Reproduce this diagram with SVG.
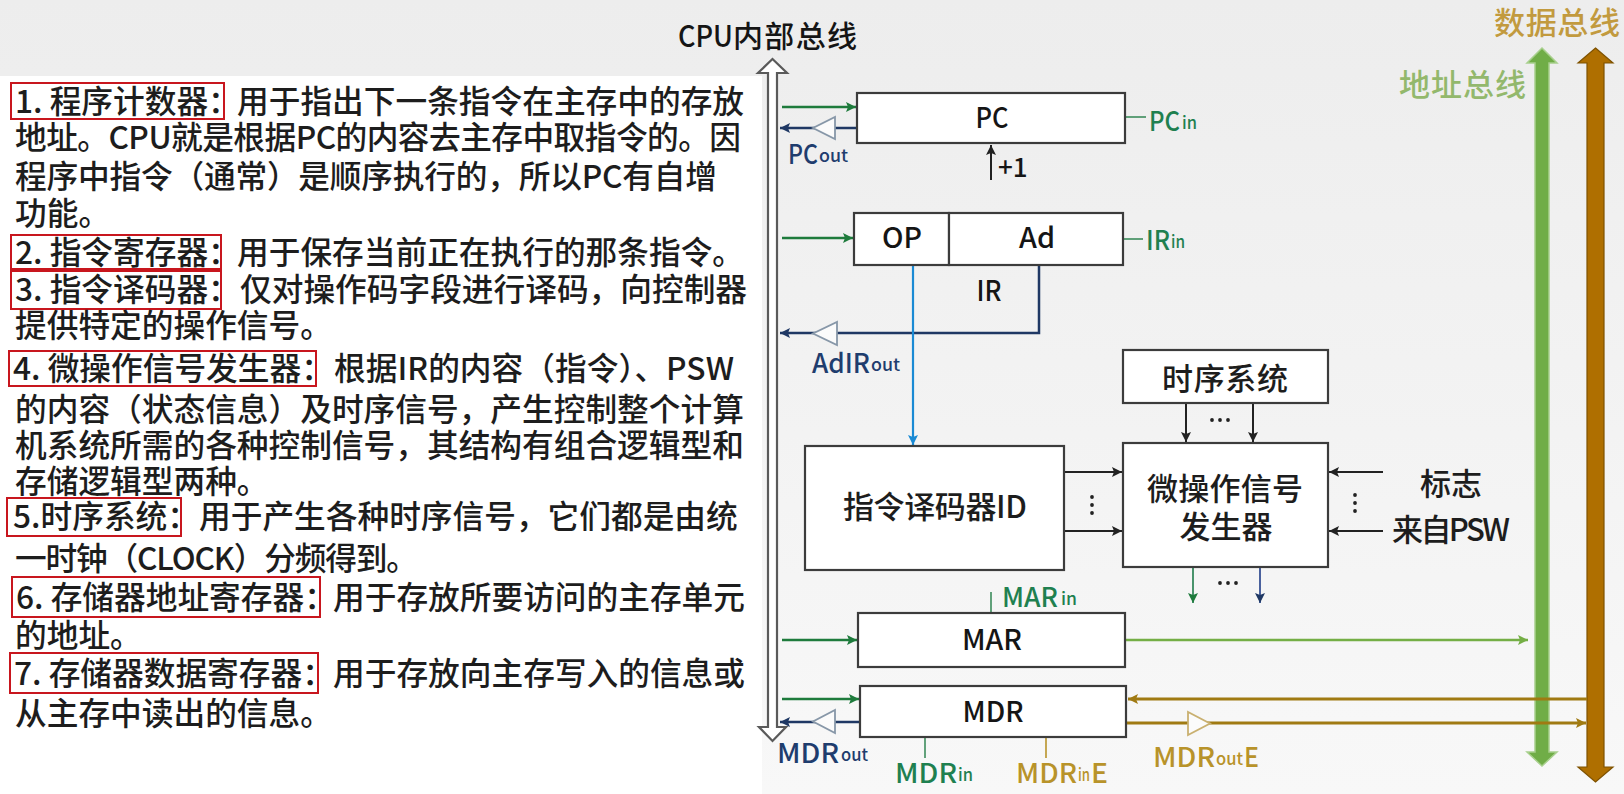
<svg xmlns="http://www.w3.org/2000/svg" width="1624" height="794" viewBox="0 0 1624 794">
<defs>
<style>
text { font-family: "Noto Sans CJK SC", "Noto Sans", sans-serif; font-weight:500; }
.n { font-size:31.7px; fill:#1d1d1d; }
.rb { fill:none; stroke:#C8161E; stroke-width:2; }
.box { fill:#ffffff; stroke:#3c3c3c; stroke-width:2.2; }
.bl { font-size:28px; fill:#151515; text-anchor:middle; }
.cj { font-size:31px; fill:#1d1d1d; text-anchor:middle; }
.g { fill:#1F8050; } .b { fill:#1F3D6E; } .y { fill:#B8932A; }
.big { font-size:27px; } .sub { font-size:17px; }
.lg { stroke:#1E7B3C; stroke-width:2.5; fill:none; }
.lb { stroke:#1F3864; stroke-width:2.5; fill:none; }
.llb { stroke:#1A8AD4; stroke-width:2.2; fill:none; }
.lk { stroke:#222222; stroke-width:2; fill:none; }
.lgg { stroke:#74AE45; stroke-width:2.6; fill:none; }
.lgo { stroke:#A07A12; stroke-width:3; fill:none; }
.ctl { stroke:#3C8C5C; stroke-width:1.6; fill:none; }
.ctly { stroke:#B8932A; stroke-width:1.6; fill:none; }
.tri { fill:#fbfbfb; stroke:#8797A8; stroke-width:1.8; }
.triy { fill:#fbfbfb; stroke:#C9B070; stroke-width:1.8; }
.dot { fill:#222; }
</style>
<linearGradient id="bg" x1="0" y1="0" x2="0" y2="1">
<stop offset="0" stop-color="#ededed"/>
<stop offset="1" stop-color="#f8f8f8"/>
</linearGradient>
<marker id="mg" viewBox="0 0 10 10" refX="10" refY="5" markerWidth="11" markerHeight="10" markerUnits="userSpaceOnUse" orient="auto"><path d="M0,0 L10,5 L0,10 L2,5 z" fill="#1E7B3C"/></marker>
<marker id="mb" viewBox="0 0 10 10" refX="10" refY="5" markerWidth="11" markerHeight="10" markerUnits="userSpaceOnUse" orient="auto"><path d="M0,0 L10,5 L0,10 L2,5 z" fill="#1F3864"/></marker>
<marker id="mlb" viewBox="0 0 10 10" refX="10" refY="5" markerWidth="11" markerHeight="10" markerUnits="userSpaceOnUse" orient="auto"><path d="M0,0 L10,5 L0,10 L2,5 z" fill="#1A8AD4"/></marker>
<marker id="mk" viewBox="0 0 10 10" refX="10" refY="5" markerWidth="11" markerHeight="10" markerUnits="userSpaceOnUse" orient="auto"><path d="M0,0 L10,5 L0,10 L2,5 z" fill="#222222"/></marker>
<marker id="mgg" viewBox="0 0 10 10" refX="10" refY="5" markerWidth="12" markerHeight="10" markerUnits="userSpaceOnUse" orient="auto"><path d="M0,0 L10,5 L0,10 L2,5 z" fill="#74AE45"/></marker>
<marker id="mgo" viewBox="0 0 10 10" refX="10" refY="5" markerWidth="12" markerHeight="10" markerUnits="userSpaceOnUse" orient="auto"><path d="M0,0 L10,5 L0,10 L2,5 z" fill="#A07A12"/></marker>
</defs>

<rect width="1624" height="794" fill="url(#bg)"/>
<rect x="0" y="76" width="762" height="718" fill="#ffffff"/>

<g id="notes">
  <g id="note1">
    <rect class="rb" x="11" y="83" width="213" height="36"/>
    <text class="n" x="15" y="113">1. 程序计数器：</text>
    <text class="n" x="237" y="113">用于指出下一条指令在主存中的存放</text>
    <text class="n" x="15" y="149" textLength="726">地址。CPU就是根据PC的内容去主存中取指令的。因</text>
    <text class="n" x="15" y="188" textLength="702">程序中指令（通常）是顺序执行的，所以PC有自增</text>
    <text class="n" x="15" y="225">功能。</text>
  </g>
  <g id="note2">
    <rect class="rb" x="11" y="235" width="210" height="34"/>
    <text class="n" x="15" y="264">2. 指令寄存器：</text>
    <text class="n" x="237" y="264">用于保存当前正在执行的那条指令。</text>
  </g>
  <g id="note3">
    <rect class="rb" x="11" y="271" width="210" height="38"/>
    <text class="n" x="15" y="301">3. 指令译码器：</text>
    <text class="n" x="240" y="301">仅对操作码字段进行译码，向控制器</text>
    <text class="n" x="15" y="337">提供特定的操作信号。</text>
  </g>
  <g id="note4">
    <rect class="rb" x="9" y="351" width="307" height="35"/>
    <text class="n" x="13" y="380">4. 微操作信号发生器：</text>
    <text class="n" x="334" y="380" textLength="400">根据IR的内容（指令）、PSW</text>
    <text class="n" x="15" y="421">的内容（状态信息）及时序信号，产生控制整个计算</text>
    <text class="n" x="15" y="457">机系统所需的各种控制信号，其结构有组合逻辑型和</text>
    <text class="n" x="15" y="493">存储逻辑型两种。</text>
  </g>
  <g id="note5">
    <rect class="rb" x="7" y="498" width="174" height="38"/>
    <text class="n" x="13" y="528">5.时序系统：</text>
    <text class="n" x="199" y="528">用于产生各种时序信号，它们都是由统</text>
    <text class="n" x="15" y="570" textLength="403">一时钟（CLOCK）分频得到。</text>
  </g>
  <g id="note6">
    <rect class="rb" x="12" y="577" width="308" height="40"/>
    <text class="n" x="16" y="609">6. 存储器地址寄存器：</text>
    <text class="n" x="333" y="609">用于存放所要访问的主存单元</text>
    <text class="n" x="15" y="647">的地址。</text>
  </g>
  <g id="note7">
    <rect class="rb" x="10" y="653" width="308" height="40"/>
    <text class="n" x="14" y="685">7. 存储器数据寄存器：</text>
    <text class="n" x="333" y="685">用于存放向主存写入的信息或</text>
    <text class="n" x="15" y="725">从主存中读出的信息。</text>
  </g>
</g>

<g id="cpu-bus">
  <polygon points="772.5,59 787,73 777,73 777,727 786,727 772.5,741 759,727 768,727 768,73 758,73" fill="#ffffff" stroke="#5a5a5a" stroke-width="2.2"/>
  <text x="678" y="47" font-size="29" fill="#151515" textLength="55" lengthAdjust="spacingAndGlyphs">CPU</text>
  <text x="733" y="47" font-size="30" fill="#151515" textLength="124">内部总线</text>
</g>

<g id="address-bus">
  <polygon points="1542,48 1557,63 1549,63 1549,752 1557,752 1542,766 1527,752 1535,752 1535,63 1527,63" fill="#70AD47" stroke="#A8D08D" stroke-width="1.5"/>
  <text x="1399" y="96" font-size="31" fill="#93B86C" textLength="127">地址总线</text>
</g>

<g id="data-bus">
  <polygon points="1595.5,48 1613,63 1604,63 1604,767 1613,767 1595.5,782 1578,767 1587,767 1587,63 1578,63" fill="#AF6F00" stroke="#7F5200" stroke-width="1.2"/>
  <text x="1494" y="34" font-size="31" fill="#C29A3E" textLength="126">数据总线</text>
</g>

<g id="connectors">
  <!-- PC -->
  <line class="lg" x1="782" y1="107" x2="856" y2="107" marker-end="url(#mg)"/>
  <line class="lb" x1="857" y1="128" x2="780" y2="128" marker-end="url(#mb)"/>
  <polygon class="tri" points="835,117 835,139 813,128"/>
  <line class="lk" x1="991" y1="180" x2="991" y2="145" marker-end="url(#mk)"/>
  <line class="ctl" x1="1125" y1="117" x2="1146" y2="117"/>
  <!-- IR -->
  <line class="lg" x1="782" y1="238" x2="853" y2="238" marker-end="url(#mg)"/>
  <line class="ctl" x1="1123" y1="239" x2="1143" y2="239"/>
  <polyline class="lb" points="1039,265 1039,333 780,333" marker-end="url(#mb)"/>
  <polygon class="tri" points="837,322 837,345 813,333.5"/>
  <line class="llb" x1="913" y1="265" x2="913" y2="445" marker-end="url(#mlb)"/>
  <!-- timing to micro-op -->
  <line class="lk" x1="1186" y1="403" x2="1186" y2="442" marker-end="url(#mk)"/>
  <line class="lk" x1="1253" y1="403" x2="1253" y2="442" marker-end="url(#mk)"/>
  <circle class="dot" cx="1212" cy="420" r="1.9"/><circle class="dot" cx="1220" cy="420" r="1.9"/><circle class="dot" cx="1228" cy="420" r="1.9"/>
  <!-- ID to micro-op -->
  <line class="lk" x1="1064" y1="472" x2="1122" y2="472" marker-end="url(#mk)"/>
  <line class="lk" x1="1064" y1="531" x2="1122" y2="531" marker-end="url(#mk)"/>
  <circle class="dot" cx="1092" cy="497" r="1.9"/><circle class="dot" cx="1092" cy="505" r="1.9"/><circle class="dot" cx="1092" cy="513" r="1.9"/>
  <!-- flags into micro-op -->
  <line class="lk" x1="1383" y1="472" x2="1329" y2="472" marker-end="url(#mk)"/>
  <line class="lk" x1="1383" y1="531" x2="1329" y2="531" marker-end="url(#mk)"/>
  <circle class="dot" cx="1355" cy="495" r="1.9"/><circle class="dot" cx="1355" cy="503" r="1.9"/><circle class="dot" cx="1355" cy="511" r="1.9"/>
  <!-- micro-op outputs -->
  <line stroke="#1E7B4A" stroke-width="1.6" x1="1193" y1="567" x2="1193" y2="603" marker-end="url(#mg)"/>
  <line stroke="#1F3C88" stroke-width="1.6" x1="1260" y1="567" x2="1260" y2="603" marker-end="url(#mb)"/>
  <circle class="dot" cx="1220" cy="583" r="1.9"/><circle class="dot" cx="1228" cy="583" r="1.9"/><circle class="dot" cx="1236" cy="583" r="1.9"/>
  <!-- MAR -->
  <line class="ctl" x1="991" y1="592" x2="991" y2="613"/>
  <line class="lg" x1="782" y1="640" x2="857" y2="640" marker-end="url(#mg)"/>
  <line class="lgg" x1="1125" y1="640" x2="1528" y2="640" marker-end="url(#mgg)"/>
  <!-- MDR -->
  <line class="lg" x1="782" y1="699" x2="859" y2="699" marker-end="url(#mg)"/>
  <line class="lb" x1="860" y1="722" x2="780" y2="722" marker-end="url(#mb)"/>
  <polygon class="tri" points="835,710 835,733 813,721.5"/>
  <line class="ctl" x1="925" y1="737" x2="925" y2="758"/>
  <line class="ctly" x1="1046" y1="737" x2="1046" y2="758"/>
  <line class="lgo" x1="1587" y1="699" x2="1128" y2="699" marker-end="url(#mgo)"/>
  <line class="lgo" x1="1126" y1="723" x2="1586" y2="723" marker-end="url(#mgo)"/>
  <polygon class="triy" points="1188,712 1188,735 1210,723.5"/>
</g>

<g id="pc">
  <rect class="box" x="857" y="93" width="268" height="50"/>
  <text class="bl" x="992" y="128" textLength="33" lengthAdjust="spacingAndGlyphs">PC</text>
  <text x="998" y="177" font-size="26" fill="#151515">+1</text>
</g>
<g id="ir">
  <rect class="box" x="854" y="213" width="95" height="52"/>
  <rect class="box" x="949" y="213" width="174" height="52"/>
  <text class="bl" x="902" y="248" textLength="40" lengthAdjust="spacingAndGlyphs">OP</text>
  <text class="bl" x="1037" y="248" textLength="36" lengthAdjust="spacingAndGlyphs">Ad</text>
  <text class="bl" x="989" y="301" textLength="25" lengthAdjust="spacingAndGlyphs">IR</text>
</g>
<g id="decoder">
  <rect class="box" x="805" y="446" width="259" height="124"/>
  <text class="cj" x="935" y="518" font-size="29" textLength="184">指令译码器ID</text>
</g>
<g id="timing">
  <rect class="box" x="1123" y="350" width="205" height="53"/>
  <text class="cj" x="1225" y="390" textLength="126">时序系统</text>
</g>
<g id="micro-op">
  <rect class="box" x="1123" y="443" width="205" height="124"/>
  <text class="cj" x="1225" y="500" textLength="156">微操作信号</text>
  <text class="cj" x="1226" y="538" textLength="93">发生器</text>
  <text class="cj" x="1451" y="495">标志</text>
  <text x="1392" y="541" font-size="31" fill="#1d1d1d" textLength="118">来自PSW</text>
</g>
<g id="mar">
  <rect class="box" x="858" y="613" width="267" height="54"/>
  <text class="bl" x="992" y="650" textLength="60" lengthAdjust="spacingAndGlyphs">MAR</text>
</g>
<g id="mdr">
  <rect class="box" x="860" y="686" width="266" height="51"/>
  <text class="bl" x="993" y="722" textLength="61" lengthAdjust="spacingAndGlyphs">MDR</text>
</g>

<g id="signal-labels">
  <g id="lbl-pcin"><text class="g big" x="1149" y="131" textLength="31" lengthAdjust="spacingAndGlyphs">PC</text><text class="g sub" x="1182" y="129" textLength="15" lengthAdjust="spacingAndGlyphs">in</text></g>
  <g id="lbl-pcout"><text class="b big" x="788" y="164" textLength="30" lengthAdjust="spacingAndGlyphs">PC</text><text class="b sub" x="819" y="162" textLength="29" lengthAdjust="spacingAndGlyphs">out</text></g>
  <g id="lbl-irin"><text class="g big" x="1146" y="250" textLength="24" lengthAdjust="spacingAndGlyphs">IR</text><text class="g sub" x="1171" y="248" textLength="14" lengthAdjust="spacingAndGlyphs">in</text></g>
  <g id="lbl-adirout"><text class="b big" x="812" y="373" textLength="58" lengthAdjust="spacingAndGlyphs">AdIR</text><text class="b sub" x="871" y="371" textLength="29" lengthAdjust="spacingAndGlyphs">out</text></g>
  <g id="lbl-marin"><text class="g big" x="1002" y="607" textLength="56" lengthAdjust="spacingAndGlyphs">MAR</text><text class="g sub" x="1061" y="605" textLength="16" lengthAdjust="spacingAndGlyphs">in</text></g>
  <g id="lbl-mdrout"><text class="b big" x="777" y="763" textLength="62" lengthAdjust="spacingAndGlyphs">MDR</text><text class="b sub" x="841" y="761" textLength="27" lengthAdjust="spacingAndGlyphs">out</text></g>
  <g id="lbl-mdrin"><text class="g big" x="895" y="783" textLength="62" lengthAdjust="spacingAndGlyphs">MDR</text><text class="g sub" x="958" y="781" textLength="15" lengthAdjust="spacingAndGlyphs">in</text></g>
  <g id="lbl-mdrine"><text class="y big" x="1016" y="783" textLength="61" lengthAdjust="spacingAndGlyphs">MDR</text><text class="y sub" x="1078" y="781" textLength="12" lengthAdjust="spacingAndGlyphs">in</text><text class="y big" x="1091" y="783" textLength="17" lengthAdjust="spacingAndGlyphs">E</text></g>
  <g id="lbl-mdroute"><text class="y big" x="1153" y="767" textLength="62" lengthAdjust="spacingAndGlyphs">MDR</text><text class="y sub" x="1216" y="765" textLength="27" lengthAdjust="spacingAndGlyphs">out</text><text class="y big" x="1244" y="767" textLength="15" lengthAdjust="spacingAndGlyphs">E</text></g>
</g>
</svg>
